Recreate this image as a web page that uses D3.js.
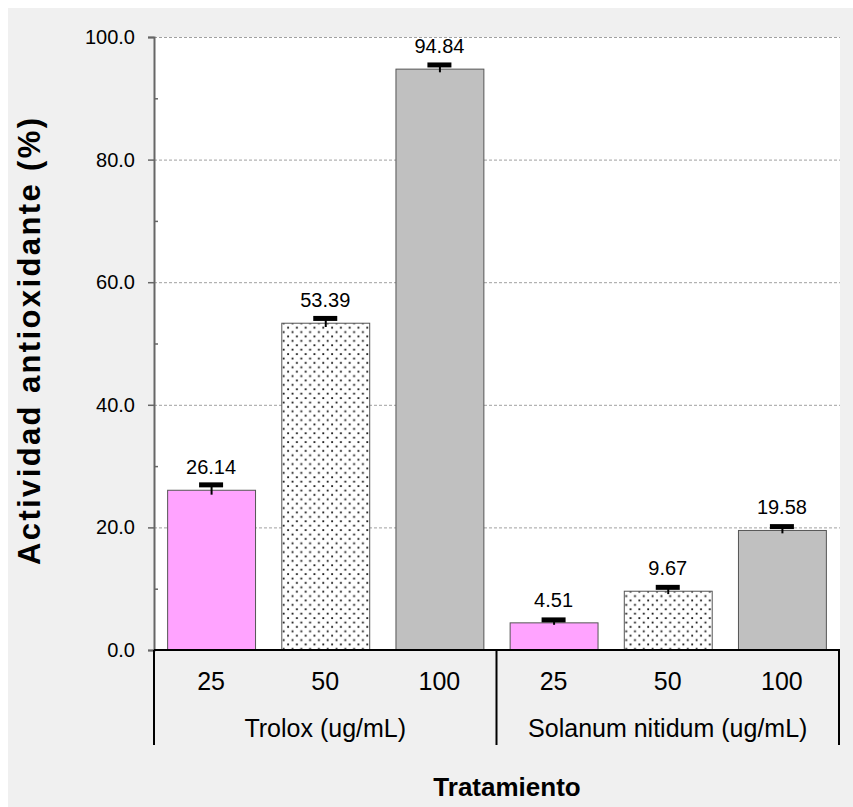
<!DOCTYPE html>
<html>
<head>
<meta charset="utf-8">
<script src="https://cdn.jsdelivr.net/npm/d3@7"></script>
<style>
  html, body { margin: 0; padding: 0; background: #ffffff; }
  svg { display: block; }
  text { font-family: "Liberation Sans", Arial, Helvetica, sans-serif; fill: #000; }
</style>
</head>
<body>
<svg id="chart" width="853" height="807"></svg>
<script>
// Treatment groups and concentrations
const groups = ["Trolox (ug/mL)", "Solanum nitidum (ug/mL)"];
const doses = ["25", "50", "100"];

// Antioxidant activity (%) per concentration
const troloxValues = [26.14, 53.39, 94.84];
const solanumValues = [4.51, 9.67, 19.58];

// Standard deviations
const troloxErrors = [0.8, 0.7, 0.6];
const solanumErrors = [0.4, 0.55, 0.55];

// Y axis ticks
const yMajorTicks = [0, 20, 40, 60, 80, 100];
const yMinorTicks = [10, 30, 50, 70, 90];

const yTitle = "Actividad antioxidante (%)";
const xTitle = "Tratamiento";

const groupValues = [troloxValues, solanumValues];
const groupErrors = [troloxErrors, solanumErrors];

const svg = d3.select("#chart");

const plot = { left: 154, right: 839, top: 37, bottom: 650 };

// Background panel
svg.append("rect")
  .attr("x", 8).attr("y", 8)
  .attr("width", 853 - 8).attr("height", 807 - 8)
  .attr("fill", "#f0f0f0");

// Plot area
svg.append("rect")
  .attr("x", plot.left).attr("y", plot.top)
  .attr("width", plot.right + 1 - plot.left).attr("height", plot.bottom - plot.top)
  .attr("fill", "#ffffff");

const y = d3.scaleLinear().domain([0, 100]).range([plot.bottom, plot.top]);

const x0 = d3.scaleBand().domain(groups).range([plot.left, plot.right]).padding(0);
const x1 = d3.scaleBand().domain(doses).range([0, x0.bandwidth()])
  .paddingInner(0.23).paddingOuter(0.115);

// Fill patterns
const defs = svg.append("defs");
const pat = defs.append("pattern")
  .attr("id", "dots")
  .attr("patternUnits", "userSpaceOnUse")
  .attr("width", 8.8).attr("height", 8.8);
pat.append("rect").attr("width", 8.8).attr("height", 8.8).attr("fill", "#ffffff");
pat.append("rect").attr("x", 1.2).attr("y", 1.2).attr("width", 1.8).attr("height", 1.8).attr("fill", "#111");
pat.append("rect").attr("x", 5.6).attr("y", 5.6).attr("width", 1.8).attr("height", 1.8).attr("fill", "#111");

const fills = ["#ffa3ff", "url(#dots)", "#c0c0c0"];

// Gridlines
svg.append("g")
  .selectAll("line")
  .data(yMajorTicks.filter(d => d > 0))
  .join("line")
  .attr("x1", plot.left).attr("x2", plot.right + 1)
  .attr("y1", d => y(d) + 0.5).attr("y2", d => y(d) + 0.5)
  .attr("stroke", "#a0a0a0")
  .attr("stroke-width", 1)
  .attr("stroke-dasharray", "3,2");

// Y axis (major ticks outside, labelled)
const yAxis = svg.append("g")
  .attr("transform", `translate(${plot.left},0)`)
  .call(d3.axisLeft(y).tickValues(yMajorTicks).tickSize(6).tickPadding(13)
    .tickFormat(d3.format(".1f")));
yAxis.select(".domain").attr("stroke", "#666").attr("stroke-width", 2);
yAxis.selectAll(".tick line").attr("stroke", "#666").attr("stroke-width", 1.5);
yAxis.selectAll(".tick text")
  .attr("font-size", 20)
  .attr("font-family", "Liberation Sans, Arial, sans-serif")
  .attr("fill", "#000");

// Minor ticks (inside)
const yMinor = svg.append("g")
  .attr("transform", `translate(${plot.left},0)`)
  .call(d3.axisRight(y).tickValues(yMinorTicks).tickSize(4).tickFormat(""));
yMinor.select(".domain").remove();
yMinor.selectAll(".tick line").attr("stroke", "#666").attr("stroke-width", 1.5);

// Bars, error bars and value labels
const groupG = svg.append("g")
  .selectAll("g")
  .data(groups)
  .join("g")
  .attr("transform", g => `translate(${x0(g)},0)`);

groupG.each(function (g, gi) {
  const sel = d3.select(this);
  const rows = doses.map((d, i) => ({
    dose: d, i,
    value: groupValues[gi][i],
    err: groupErrors[gi][i]
  }));

  sel.selectAll("rect.bar")
    .data(rows)
    .join("rect")
    .attr("class", "bar")
    .attr("x", r => x1(r.dose) + 0.5)
    .attr("y", r => y(r.value) + 0.5)
    .attr("width", x1.bandwidth())
    .attr("height", r => y(0) - y(r.value))
    .attr("fill", r => fills[r.i])
    .attr("stroke", "#555")
    .attr("stroke-width", 1);

  // Error stem
  sel.selectAll("line.stem")
    .data(rows)
    .join("line")
    .attr("class", "stem")
    .attr("x1", r => x1(r.dose) + x1.bandwidth() / 2 + 0.5)
    .attr("x2", r => x1(r.dose) + x1.bandwidth() / 2 + 0.5)
    .attr("y1", r => y(r.value - r.err))
    .attr("y2", r => y(r.value + r.err))
    .attr("stroke", "#000")
    .attr("stroke-width", 2);

  // Error cap
  sel.selectAll("line.cap")
    .data(rows)
    .join("line")
    .attr("class", "cap")
    .attr("x1", r => x1(r.dose) + x1.bandwidth() / 2 - 12)
    .attr("x2", r => x1(r.dose) + x1.bandwidth() / 2 + 12)
    .attr("y1", r => y(r.value + r.err))
    .attr("y2", r => y(r.value + r.err))
    .attr("stroke", "#000")
    .attr("stroke-width", 5);

  sel.selectAll("text.val")
    .data(rows)
    .join("text")
    .attr("class", "val")
    .attr("x", r => x1(r.dose) + x1.bandwidth() / 2)
    .attr("y", r => y(r.value) - 15.5)
    .attr("text-anchor", "middle")
    .attr("font-size", 20)
    .text(r => r.value.toFixed(2));

  // Concentration labels
  sel.selectAll("text.dose")
    .data(rows)
    .join("text")
    .attr("class", "dose")
    .attr("x", r => x1(r.dose) + x1.bandwidth() / 2)
    .attr("y", 690)
    .attr("text-anchor", "middle")
    .attr("font-size", 25)
    .text(r => r.dose);

  // Group label
  sel.append("text")
    .attr("x", x0.bandwidth() / 2)
    .attr("y", 737)
    .attr("text-anchor", "middle")
    .attr("font-size", 25)
    .text(g);
});

// X axis baseline
svg.append("line")
  .attr("x1", plot.left).attr("x2", plot.right + 1)
  .attr("y1", plot.bottom).attr("y2", plot.bottom)
  .attr("stroke", "#000").attr("stroke-width", 2);

// Category separators
const seps = groups.map(g => x0(g)).concat([x0(groups[groups.length - 1]) + x0.bandwidth()]);
svg.append("g")
  .selectAll("line")
  .data(seps)
  .join("line")
  .attr("x1", d => d).attr("x2", d => d)
  .attr("y1", plot.bottom).attr("y2", 745)
  .attr("stroke", "#000").attr("stroke-width", 2);

// Axis titles
svg.append("text")
  .attr("x", 507).attr("y", 796)
  .attr("text-anchor", "middle")
  .attr("font-size", 26)
  .attr("font-weight", "bold")
  .text(xTitle);

svg.append("text")
  .attr("transform", `translate(40,${(plot.top + plot.bottom) / 2 - 2}) rotate(-90)`)
  .attr("text-anchor", "middle")
  .attr("font-size", 31)
  .attr("font-weight", "bold")
  .attr("textLength", 447)
  .attr("lengthAdjust", "spacing")
  .text(yTitle);
</script>
</body>
</html>
